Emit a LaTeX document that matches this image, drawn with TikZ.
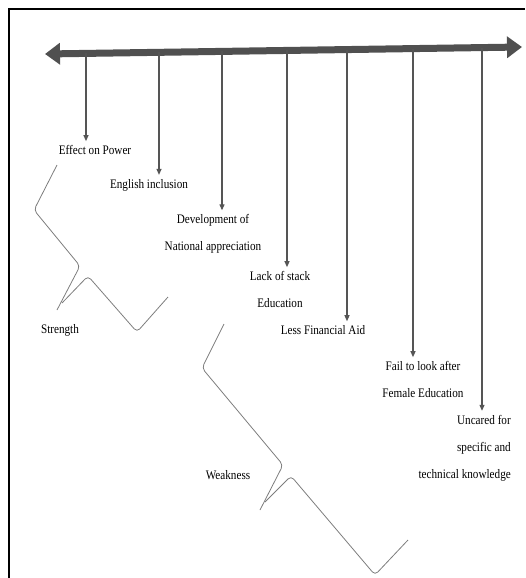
\documentclass[tikz,border=0pt]{standalone}
\usepackage{fontspec}
\setmainfont{Liberation Serif}[FakeStretch=0.86]
\usepackage{tikz}
\usetikzlibrary{arrows.meta}
\definecolor{AxisGray}{RGB}{80,80,80}
\definecolor{StemGray}{RGB}{85,85,85}
\definecolor{BraceGray}{RGB}{125,125,125}
\tikzset{
  axis/.style={{Triangle[length=15pt,width=21pt]}-{Triangle[length=15pt,width=21pt]},
               line width=7pt, color=AxisGray},
  stem/.style={-{Triangle[length=6pt,width=5pt]}, line width=1.1pt, color=StemGray,
               shorten >=3pt},
  item/.style={font=\rmfamily\fontsize{13}{27}\selectfont, align=center, inner sep=1pt},
  brace/.style={line width=0.8pt, color=BraceGray, rounded corners=4pt}
}

\begin{document}
\begin{tikzpicture}[x=1pt,y=-1pt]
\useasboundingbox (0,0) rectangle (525,578);
% frame
\draw[line width=2pt] (8.5,578) -- (8.5,9.5) -- (525,9.5);
% time line
\coordinate (L) at (45,54);
\coordinate (R) at (522,47);
\draw[axis] (L) -- (R);
\coordinate (t1) at (86,53.4);
\coordinate (t2) at (159,52.3);
\coordinate (t3) at (222,51.4);
\coordinate (t4) at (287,50.5);
\coordinate (t5) at (347,49.6);
\coordinate (t6) at (413,48.6);
\coordinate (t7) at (482,47.6);
% points
\node[item] (p1) at (95,150) {Effect on Power};
\node[item] (p2) at (149,185) {English inclusion};
\node[item] (p3) at (213,234) {Development of\\National appreciation};
\node[item] (p4) at (280,289.5) {Lack of stack\\Education};
\node[item] (p5) at (323,330) {Less Financial Aid};
\node[item] (p6) at (423,379.5) {Fail to look after\\Female Education};
\node[item, align=right, anchor=east] (p7) at (512,448) {Uncared for\\specific and\\technical knowledge};
\draw[stem] (t1) -- (t1 |- p1.north);
\draw[stem] (t2) -- (t2 |- p2.north);
\draw[stem] (t3) -- (t3 |- p3.north);
\draw[stem] (t4) -- (t4 |- p4.north);
\draw[stem] (t5) -- (t5 |- p5.north);
\draw[stem] (t6) -- (t6 |- p6.north);
\draw[stem] (t7) -- (t7 |- p7.north);
% groups
\node[item] (str) at (60,330) {Strength};
\node[item] (wk) at (228,475) {Weakness};
\draw[brace] (57,165) -- (34,210) -- (80,266) -- (57,310);
\draw[brace] (62,303) -- (88,276) -- (137,332) -- (168,297);
\draw[brace] (224,324) -- (202,368) -- (283,465) -- (260,510);
\draw[brace] (265,502) -- (291,476) -- (375,575) -- (408,540);
\end{tikzpicture}
\end{document}
